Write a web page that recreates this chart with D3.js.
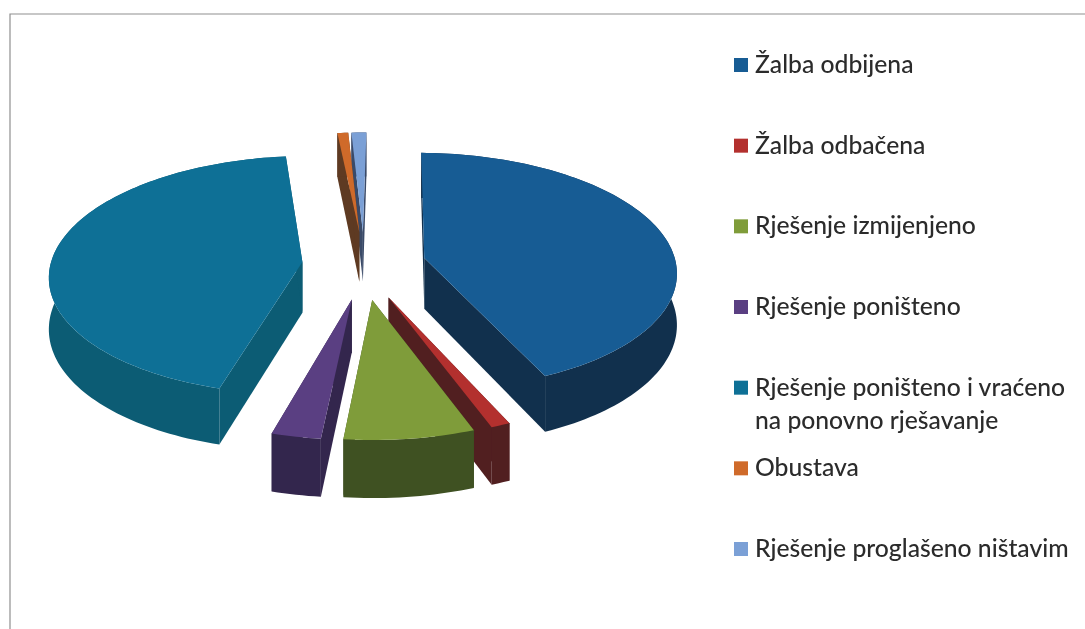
<!DOCTYPE html>
<html>
<head>
<meta charset="utf-8">
<script src="https://cdnjs.cloudflare.com/ajax/libs/d3/7.8.5/d3.min.js"></script>
<style>
    html, body { margin: 0; padding: 0; background: #fff; }
    svg { display: block; filter: blur(0.5px); }
</style>
</head>
<body>
<div id="chart"></div>
<script>
// Share of each category in percent
const categories = [
    "Žalba odbijena",
    "Žalba odbačena",
    "Rješenje izmijenjeno",
    "Rješenje poništeno",
    "Rješenje poništeno i vraćeno|na ponovno rješavanje",
    "Obustava",
    "Rješenje proglašeno ništavim"
];
const shares = [42.9, 1.1, 7.4, 2.8, 43.9, 0.8, 1.1];
const topColors = ["#175c94", "#b3302e", "#7f9c3a", "#5a3f82", "#0e7096", "#cf6a2a", "#7ba0d6"];
const wallColors = ["#11304d", "#511f20", "#3f5122", "#33264d", "#0c5c74", "#5e3a22", "#3a4a68"];

const width = 1085;
const height = 629;

// Fake 3D pie settings
const cx = 364;
const cy = 265;
const radius = 252;
const explodeX = 62;
const explodeY = 72;
const rotation = 0.9 * Math.PI / 180;
const tilt = 0.475;
const perspective = 0.00043;
const depth = 51;

const svg = d3.select("#chart")
    .append("svg")
    .attr("width", width)
    .attr("height", height);

// Frame of the scanned chart
svg.append("path")
    .attr("d", `M10,${height} L10,14 L${width},14`)
    .attr("fill", "none")
    .attr("stroke", "#8f8f8f")
    .attr("stroke-width", 1.2);

const project = (px, py, z = 0) => {
    const s = 1 + perspective * py;
    return [cx + px * s, cy + tilt * py * s + z * s];
};

const pieData = d3.pie()
    .sort(null)
    .value(d => d)
    .startAngle(rotation)
    .endAngle(rotation + 2 * Math.PI)(shares);

const slices = pieData.map((d, i) => {
    const mid = (d.startAngle + d.endAngle) / 2;
    const ox = explodeX * Math.sin(mid);
    const oy = -explodeY * Math.cos(mid);
    const steps = Math.max(2, Math.ceil((d.endAngle - d.startAngle) * 40));
    const angles = d3.range(steps + 1).map(k => d.startAngle + (d.endAngle - d.startAngle) * k / steps);
    const rim = angles.map(a => [ox + radius * Math.sin(a), oy - radius * Math.cos(a)]);
    return { i, ox, oy, rim };
});

// Far slices first so the near ones paint over them
slices.sort((a, b) => a.oy - b.oy);

const line = d3.line();
const pieGroup = svg.append("g");

slices.forEach(s => {
    const g = pieGroup.append("g");
    const apex = [s.ox, s.oy];
    const first = s.rim[0];
    const last = s.rim[s.rim.length - 1];

    // Cut walls
    [first, last].forEach(p => {
        g.append("path")
            .attr("d", line([
                project(apex[0], apex[1]),
                project(p[0], p[1]),
                project(p[0], p[1], depth),
                project(apex[0], apex[1], depth)
            ]) + "Z")
            .attr("fill", wallColors[s.i]);
    });

    // Outer wall
    const outer = s.rim.map(p => project(p[0], p[1]))
        .concat(s.rim.slice().reverse().map(p => project(p[0], p[1], depth)));
    g.append("path")
        .attr("d", line(outer) + "Z")
        .attr("fill", wallColors[s.i]);

    // Top face
    const top = [project(apex[0], apex[1])].concat(s.rim.map(p => project(p[0], p[1])));
    g.append("path")
        .attr("d", line(top) + "Z")
        .attr("fill", topColors[s.i]);
});

// Legend
const legendY = d3.scalePoint()
    .domain(categories)
    .range([65, 549]);

const legend = svg.append("g");

categories.forEach((name, i) => {
    const y = legendY(name);

    legend.append("rect")
        .attr("x", 734)
        .attr("y", y - 7)
        .attr("width", 14)
        .attr("height", 14)
        .attr("fill", topColors[i]);

    name.split("|").forEach((part, j) => {
        legend.append("text")
            .attr("x", 755)
            .attr("y", y + 8 + j * 33)
            .style("font-family", "Lato, 'Open Sans', sans-serif")
            .style("font-size", "24.7px")
            .style("font-weight", "500")
            .style("fill", "#2b2b2b")
            .text(part);
    });
});
</script>
</body>
</html>
